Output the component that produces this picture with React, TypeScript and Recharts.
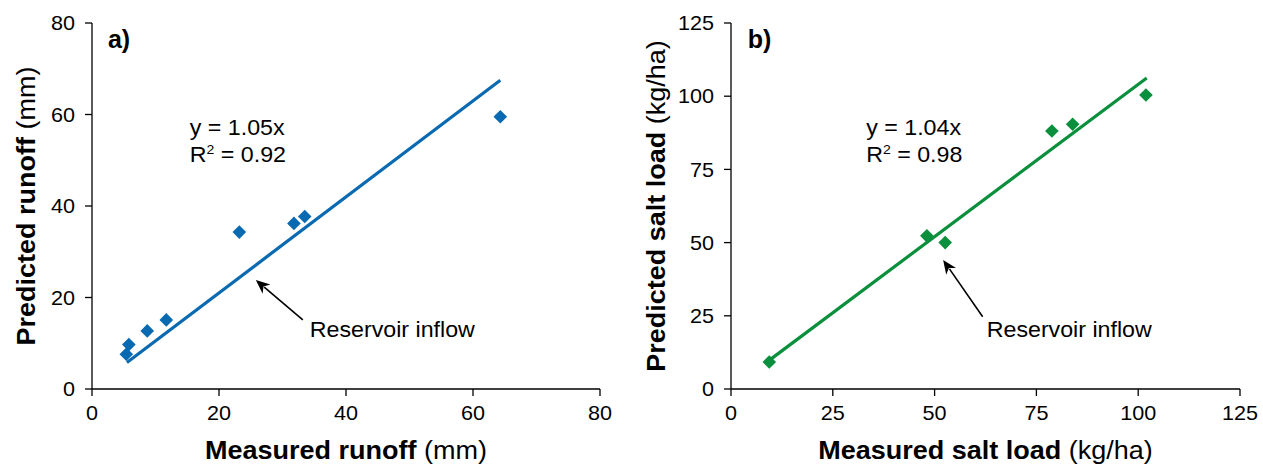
import React from 'react';
import {
  ScatterChart,
  Scatter,
  XAxis,
  YAxis,
  ReferenceDot,
  ReferenceLine,
} from 'recharts';

// ---------- data ----------
const measuredRunoff = [64.3, 23.2, 31.8, 33.5, 11.7, 8.7, 5.8, 5.4];
const predictedRunoff = [59.5, 34.3, 36.2, 37.7, 15.1, 12.7, 9.7, 7.6];
const runoffFitX = [5.5, 64.3];
const runoffFitY = [5.8, 67.5];
const runoffTicks = [0, 20, 40, 60, 80];

const measuredSalt = [9.4, 48.1, 52.6, 78.8, 83.9, 101.9];
const predictedSalt = [9.2, 52.3, 50.0, 88.1, 90.4, 100.4];
const saltFitX = [9.2, 102.1];
const saltFitY = [9.6, 106.2];
const saltTicks = [0, 25, 50, 75, 100, 125];

const BLUE = '#0969b1';
const GREEN = '#0a8f3c';
const FONT = '"Liberation Sans", Arial, Helvetica, sans-serif';

const zip = (xs: number[], ys: number[]) => xs.map((x, i) => ({ x, y: ys[i] }));

const runoffPts = zip(measuredRunoff, predictedRunoff);
const runoffFit = zip(runoffFitX, runoffFitY);
const saltPts = zip(measuredSalt, predictedSalt);
const saltFit = zip(saltFitX, saltFitY);

// ---------- text helper (slightly widened Arial-like text) ----------
const SText = ({
  x,
  y,
  size,
  sx = 1,
  anchor = 'start',
  dy,
  rotate = 0,
  weight = 'normal',
  children,
}: any) => (
  <text
    transform={`translate(${x},${y}) rotate(${rotate}) scale(${sx},1)`}
    x={0}
    y={0}
    dy={dy}
    textAnchor={anchor}
    fontFamily={FONT}
    fontSize={size}
    fontWeight={weight}
    fill="#000"
  >
    {children}
  </text>
);

const TICK_SIZE = 20;
const TICK_SX = 1.08;

const XTick = (p: any) => (
  <SText x={p.x} y={p.y} size={TICK_SIZE} sx={TICK_SX} anchor="middle" dy="0.71em">
    {p.payload.value}
  </SText>
);

const YTick = (p: any) => (
  <SText x={p.x} y={p.y} size={TICK_SIZE} sx={TICK_SX} anchor="end" dy="0.355em">
    {p.payload.value}
  </SText>
);

// ---------- shapes ----------
const Diamond = (color: string) => (p: any) => {
  const { cx, cy } = p;
  const r = 6.8;
  return (
    <polygon
      points={`${cx},${cy - r} ${cx + r},${cy} ${cx},${cy + r} ${cx - r},${cy}`}
      fill={color}
    />
  );
};

const Nothing = () => <g />;

const Arrow = (p: any) => {
  const { x1, y1, x2, y2 } = p;
  const dx = x2 - x1;
  const dy = y2 - y1;
  const len = Math.sqrt(dx * dx + dy * dy) || 1;
  const ux = dx / len;
  const uy = dy / len;
  const hl = 14;
  const hw = 6;
  const bx = x2 - ux * hl;
  const by = y2 - uy * hl;
  const nx = -uy;
  const ny = ux;
  return (
    <g>
      <line x1={x1} y1={y1} x2={bx + ux * 3} y2={by + uy * 3} stroke="#000" strokeWidth={1.6} />
      <polygon
        points={`${x2},${y2} ${bx + nx * hw},${by + ny * hw} ${bx + ux * 4},${by + uy * 4} ${bx - nx * hw},${by - ny * hw}`}
        fill="#000"
      />
    </g>
  );
};

const ANN_SIZE = 21.5;
const ANN_SX = 1.08;

const eqText = (eq: string, r2: string) => (p: any) => (
  <g>
    <SText x={p.cx} y={p.cy} size={ANN_SIZE} sx={ANN_SX}>
      {eq}
    </SText>
    <SText x={p.cx} y={p.cy + 27} size={ANN_SIZE} sx={ANN_SX}>
      R
      <tspan fontSize={13} dy={-8}>
        2
      </tspan>
      <tspan dy={8}>{' = ' + r2}</tspan>
    </SText>
  </g>
);

const plainText = (s: string, size: number, sx: number, bold = false) => (p: any) => (
  <SText x={p.cx} y={p.cy} size={size} sx={sx} weight={bold ? 'bold' : 'normal'}>
    {s}
  </SText>
);

const LABEL_SIZE = 25;
const LABEL_SX = 1.08;

const xLabel = (bold: string, normal: string) => (props: any) => {
  const vb = props.viewBox || {};
  return (
    <SText x={vb.x + vb.width / 2} y={vb.y + 70} size={LABEL_SIZE} sx={LABEL_SX} anchor="middle">
      <tspan fontWeight="bold">{bold}</tspan>
      <tspan>{normal}</tspan>
    </SText>
  );
};

const yLabel = (bold: string, normal: string, bx: number) => (props: any) => {
  const vb = props.viewBox || {};
  const cy = vb.y + vb.height / 2;
  return (
    <SText x={bx} y={cy} size={LABEL_SIZE} sx={LABEL_SX} anchor="middle" rotate={-90}>
      <tspan fontWeight="bold">{bold}</tspan>
      <tspan>{normal}</tspan>
    </SText>
  );
};

const axisLine = { stroke: '#000', strokeWidth: 1.3 };
const tickLine = { stroke: '#000', strokeWidth: 1.3 };

export default function App() {
  return (
    <div
      style={{
        position: 'absolute',
        left: 0,
        top: 0,
        width: 1263,
        height: 465,
        background: '#fff',
        display: 'flex',
      }}
    >
      <ScatterChart width={620} height={465} margin={{ top: 23, right: 20, bottom: 0, left: 0 }}>
        <XAxis
          type="number"
          dataKey="x"
          domain={[0, 80]}
          ticks={runoffTicks}
          height={76}
          tick={XTick}
          tickSize={7}
          tickMargin={10}
          axisLine={axisLine}
          tickLine={tickLine}
          label={{ content: xLabel('Measured runoff ', '(mm)') }}
        />
        <YAxis
          type="number"
          dataKey="y"
          domain={[0, 80]}
          ticks={runoffTicks}
          width={92}
          tick={YTick}
          tickSize={7}
          tickMargin={10}
          axisLine={axisLine}
          tickLine={tickLine}
          label={{ content: yLabel('Predicted runoff ', '(mm)', 35) }}
        />
        <Scatter
          data={runoffFit}
          fill={BLUE}
          line={{ stroke: BLUE, strokeWidth: 3.2 }}
          shape={Nothing}
          isAnimationActive={false}
        />
        <Scatter data={runoffPts} fill={BLUE} shape={Diamond(BLUE)} isAnimationActive={false} />
        <ReferenceDot x={2.5} y={74.5} r={0} ifOverflow="visible" shape={plainText('a)', 25, 1, true)} />
        <ReferenceDot x={15.4} y={55.5} r={0} ifOverflow="visible" shape={eqText('y = 1.05x', '0.92')} />
        <ReferenceDot x={34.3} y={11.4} r={0} ifOverflow="visible" shape={plainText('Reservoir inflow', ANN_SIZE, ANN_SX)} />
        <ReferenceLine
          segment={[
            { x: 33.2, y: 15.1 },
            { x: 25.8, y: 23.8 },
          ]}
          ifOverflow="visible"
          shape={Arrow}
        />
      </ScatterChart>

      <ScatterChart width={643} height={465} margin={{ top: 23, right: 23, bottom: 0, left: 0 }}>
        <XAxis
          type="number"
          dataKey="x"
          domain={[0, 125]}
          ticks={saltTicks}
          height={76}
          tick={XTick}
          tickSize={7}
          tickMargin={10}
          axisLine={axisLine}
          tickLine={tickLine}
          label={{ content: xLabel('Measured salt load ', '(kg/ha)') }}
        />
        <YAxis
          type="number"
          dataKey="y"
          domain={[0, 125]}
          ticks={saltTicks}
          width={111}
          tick={YTick}
          tickSize={7}
          tickMargin={10}
          axisLine={axisLine}
          tickLine={tickLine}
          label={{ content: yLabel('Predicted salt load ', '(kg/ha)', 45) }}
        />
        <Scatter
          data={saltFit}
          fill={GREEN}
          line={{ stroke: GREEN, strokeWidth: 3.2 }}
          shape={Nothing}
          isAnimationActive={false}
        />
        <Scatter data={saltPts} fill={GREEN} shape={Diamond(GREEN)} isAnimationActive={false} />
        <ReferenceDot x={4.1} y={116.5} r={0} ifOverflow="visible" shape={plainText('b)', 25, 1, true)} />
        <ReferenceDot x={33.2} y={86.7} r={0} ifOverflow="visible" shape={eqText('y = 1.04x', '0.98')} />
        <ReferenceDot x={62.8} y={17.9} r={0} ifOverflow="visible" shape={plainText('Reservoir inflow', ANN_SIZE, ANN_SX)} />
        <ReferenceLine
          segment={[
            { x: 61.8, y: 24.7 },
            { x: 52.1, y: 44.1 },
          ]}
          ifOverflow="visible"
          shape={Arrow}
        />
      </ScatterChart>
    </div>
  );
}
